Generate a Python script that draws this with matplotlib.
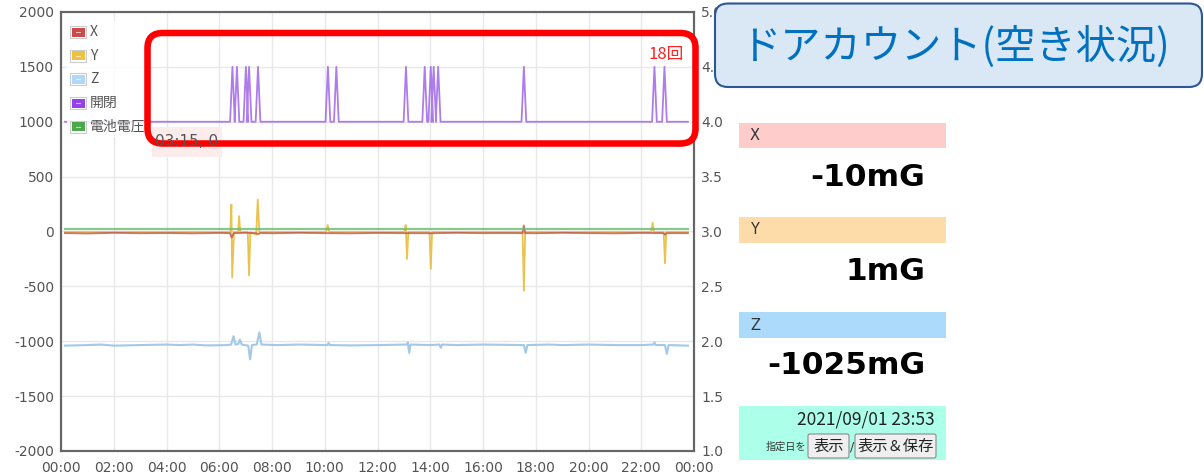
import matplotlib
matplotlib.use("Agg")
import matplotlib.pyplot as plt
from matplotlib.patches import FancyBboxPatch, Rectangle

plt.rcParams['font.family'] = ['DejaVu Sans', 'Noto Sans CJK JP']
plt.rcParams['axes.unicode_minus'] = False
JP = ['Noto Sans CJK JP', 'DejaVu Sans']

# --- data (hours of day, values) ---
x_t = [0.15, 1, 2, 3, 4, 5, 6, 6.4, 6.47, 6.55, 7.0, 7.4, 7.47, 7.55, 8, 9, 10, 11, 12, 13,
       14, 15, 16, 17, 17.5, 17.55, 17.6, 18, 19, 20, 21, 22, 22.85, 22.9, 22.95, 23.77]
x_v = [-15, -18, -12, -16, -14, -17, -13, -15, -55, -15, -12, -15, -25, -14, -16, -12, -15, -17, -13, -15,
       -16, -12, -15, -14, -15, 55, -15, -16, -12, -15, -17, -13, -15, -30, -15, -15]

y_t = [0.15, 6.42, 6.46, 6.49, 6.56, 6.72, 6.75, 6.80, 7.08, 7.13, 7.18, 7.40, 7.46, 7.52,
       10.05, 10.11, 10.17, 13.02, 13.07, 13.12, 13.17, 13.97, 14.02, 14.07,
       17.50, 17.55, 17.60, 22.38, 22.43, 22.48, 22.85, 22.90, 22.95, 23.77]
y_v = [-5, -5, 245, -420, -5, -5, 140, -5, -5, -400, -5, -30, 290, -5,
       -5, 60, -5, -5, 60, -250, -5, -5, -340, -5,
       -5, -540, -5, -5, 80, -5, -5, -290, -5, -5]

z_t = [0.15, 1, 1.5, 2, 3, 4, 4.5, 5, 5.5, 6.3, 6.45, 6.54, 6.62, 6.72, 6.78, 6.85, 7.1, 7.17, 7.24,
       7.42, 7.52, 7.6, 8.2, 9, 10.1, 10.15, 10.2, 11, 12, 13.1, 13.15, 13.2, 13.25, 14, 14.35,
       14.4, 14.45, 15, 16, 17.55, 17.62, 17.68, 18.5, 19, 20, 21, 22, 22.45, 22.5, 22.55, 22.9,
       22.97, 23.04, 23.77]
z_v = [-1040, -1035, -1030, -1040, -1035, -1030, -1035, -1030, -1038, -1035, -1030, -955, -1030,
       -1025, -985, -1030, -1040, -1165, -1035, -1030, -920, -1030, -1035, -1030, -1035, -1015,
       -1035, -1038, -1035, -1030, -1010, -1105, -1030, -1035, -1030, -1060, -1030, -1035, -1030,
       -1035, -1105, -1035, -1030, -1035, -1030, -1035, -1035, -1030, -1010, -1035, -1035, -1115,
       -1035, -1040]

door_start, door_end = 0.15, 23.77
door_peaks = [6.50, 6.67, 7.01, 7.13, 7.47, 10.12, 10.44, 13.08,
              13.79, 14.02, 14.13, 14.30, 17.55, 22.50, 22.88]
door_low, door_high = 1000, 1500

batt_t = [0.15, 23.77]
batt_v = [3.02, 3.02]

xticks = list(range(0, 25, 2))
xlabels = ['%02d:00' % (h % 24) for h in xticks]

legend_names = ['X', 'Y', 'Z', '開閉', '電池電圧']
legend_colors = ['#cb4b4b', '#edc240', '#afd8f8', '#9440ed', '#4da74d']

# door line built from peak times
d_t, d_v = [door_start], [door_low]
for p in door_peaks:
    d_t += [p - 0.09, p, p + 0.09]
    d_v += [door_low, door_high, door_low]
d_t.append(door_end)
d_v.append(door_low)

W, H = 1204, 476
fig = plt.figure(figsize=(W / 100, H / 100), dpi=100)
ax = fig.add_axes([61 / W, 1 - 451 / H, (694 - 61) / W, (451 - 12) / H])
ax2 = ax.twinx()

ax.plot(z_t, z_v, color='#a3c8e8', lw=1.5, zorder=3)
ax.plot(y_t, y_v, color='#e8bd3c', lw=1.3, alpha=0.9, zorder=4)
ax.plot(x_t, x_v, color='#c05050', lw=1.3, alpha=0.8, zorder=5)
ax.plot(d_t, d_v, color='#9a5ce8', lw=1.3, alpha=0.8, zorder=6)
ax2.plot(batt_t, batt_v, color='#6abb6a', lw=1.6, alpha=0.8)

ax.set_xlim(0, 24)
ax.set_ylim(-2000, 2000)
ax2.set_ylim(1, 5)
ax.set_xticks(xticks)
ax.set_xticklabels(xlabels)
ax.set_yticks(range(-2000, 2001, 500))
ax2.set_yticks([1 + 0.5 * i for i in range(9)])
ax2.set_yticklabels(['%.1f' % (1 + 0.5 * i) for i in range(9)])
ax.grid(True, color='#e8e8e8', lw=1)
ax.set_axisbelow(True)
for a in (ax, ax2):
    a.tick_params(length=0, labelsize=10, colors='#545454')
    for s in a.spines.values():
        s.set_color('#666666')
        s.set_linewidth(1.5)
ax.tick_params(axis='x', pad=7)
ax.tick_params(axis='y', pad=5)
ax2.tick_params(axis='y', pad=5)

# overlay in pixel coordinates
ov = fig.add_axes([0, 0, 1, 1], zorder=10)
ov.set_xlim(0, W)
ov.set_ylim(H, 0)
ov.axis('off')
ov.patch.set_alpha(0)

# legend
ov.add_patch(Rectangle((67, 21), 79, 116, fc='white', ec='none', alpha=0.85))
for i, (name, col) in enumerate(zip(legend_names, legend_colors)):
    yc = 32 + i * 23.7
    ov.add_patch(Rectangle((70, yc - 6), 16, 12, fc='white', ec='#cccccc', lw=0.8))
    ov.add_patch(Rectangle((71.5, yc - 4.5), 13, 9, fc=col, ec='none'))
    ov.plot([76, 80], [yc, yc], color='white', lw=0.8, alpha=0.6)
    ov.text(90, yc, name, fontsize=10, color='#545454', va='center', ha='left', family=JP)

# tooltip
ov.add_patch(Rectangle((152, 127), 70, 30, fc='#fdecec', ec='none'))
ov.text(155, 142, '03:15, 0', fontsize=11, color='#555555', va='center', ha='left')

# red highlight box
ov.add_patch(FancyBboxPatch((147.5, 33), 548, 110.5,
                            boxstyle='round,pad=0,rounding_size=15',
                            fc='none', ec='#ff0000', lw=4.7))
ov.text(648, 54, '18回', fontsize=12, color='#ff2020', va='center', ha='left', family=JP)

# title box
ov.add_patch(FancyBboxPatch((715, 3.5), 487, 83.5,
                            boxstyle='round,pad=0,rounding_size=13',
                            fc='#dae8f5', ec='#2f5597', lw=1.5))
ov.text(740, 47, 'ドアカウント(空き状況)', fontsize=29, color='#0070c0',
        va='center', ha='left', family=JP)

# right panel
bars = [('X', '#ffcccc', 122.5, '-10mG', 178),
        ('Y', '#fddcaa', 217, '1mG', 272),
        ('Z', '#acdafa', 312, '-1025mG', 366)]
for lab, col, top, val, vy in bars:
    ov.add_patch(Rectangle((739, top), 207, 25.5, fc=col, ec='none'))
    ov.text(750, top + 13, lab, fontsize=10.5, color='#333333', va='center', ha='left')
    ov.text(925, vy, val, fontsize=22.5, fontweight='bold', color='black', va='center', ha='right')

ov.add_patch(Rectangle((739, 406), 207, 53.5, fc='#acffe9', ec='none'))
ov.text(935, 419, '2021/09/01 23:53', fontsize=12.5, color='#222222', va='center', ha='right', family=JP)
ov.text(766, 447, '指定日を', fontsize=7.3, color='#333333', va='center', ha='left', family=JP)
ov.add_patch(FancyBboxPatch((808, 434), 41, 24, boxstyle='round,pad=0,rounding_size=2',
                            fc='#efefef', ec='#8a8a8a', lw=0.8))
ov.text(828.5, 446, '表示', fontsize=11, color='#222222', va='center', ha='center', family=JP)
ov.text(852.5, 447, '/', fontsize=9, color='#333333', va='center', ha='center')
ov.add_patch(FancyBboxPatch((855, 434), 81, 24, boxstyle='round,pad=0,rounding_size=2',
                            fc='#efefef', ec='#8a8a8a', lw=0.8))
ov.text(895.5, 446, '表示＆保存', fontsize=11, color='#222222', va='center', ha='center', family=JP)

fig.savefig('out.png', dpi=100)
